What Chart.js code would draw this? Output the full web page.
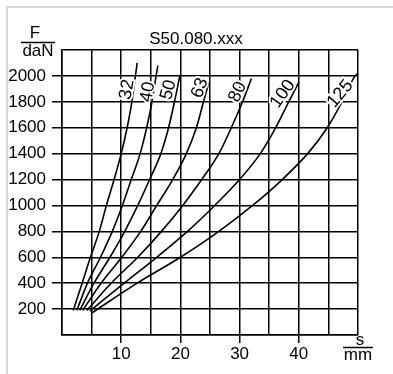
<!DOCTYPE html>
<html>
<head>
<meta charset="utf-8">
<script src="https://cdn.jsdelivr.net/npm/chart.js@4"></script>
<style>
    html, body { margin: 0; padding: 0; background: #fff; }
    #wrap { position: relative; width: 393px; height: 374px; overflow: hidden; }
    #frame { position: absolute; left: 6px; top: 6px; width: 420px; height: 420px;
             border-left: 2px solid #d6d6d6; border-top: 2px solid #d6d6d6; }
    #chart { position: absolute; left: 0; top: 0; }
</style>
</head>
<body>
<div id="wrap">
    <div id="frame"></div>
    <canvas id="chart" width="393" height="374"></canvas>
</div>
<script>
// ============================================
// DATA (stroke s in mm, force F in daN)
// ============================================

const curveNames = ['32', '40', '50', '63', '80', '100', '125'];

const force32  = [190, 400, 600, 800, 1000, 1200, 1400, 1600, 1800, 2000, 2100];
const stroke32 = [1.9, 3.4, 4.8, 6.3, 7.5, 8.8, 10.0, 11.0, 11.8, 12.4, 12.7];

const force40  = [190, 400, 600, 800, 1000, 1200, 1400, 1600, 1800, 2000, 2080];
const stroke40 = [2.5, 4.3, 6.5, 8.5, 10.2, 11.7, 13.2, 14.3, 15.2, 15.9, 16.2];

const force50  = [190, 400, 600, 800, 1000, 1200, 1400, 1600, 1800, 2000];
const stroke50 = [3.0, 5.4, 8.1, 10.6, 12.8, 14.8, 16.7, 18.0, 19.0, 19.9];

const force63  = [190, 400, 600, 800, 1000, 1200, 1400, 1600, 1800, 1950];
const stroke63 = [3.5, 6.6, 10.1, 13.3, 16.0, 18.7, 21.0, 22.7, 23.9, 24.8];

const force80  = [190, 400, 600, 800, 1000, 1200, 1400, 1600, 1800, 1980];
const stroke80 = [4.2, 8.3, 12.8, 16.8, 20.4, 23.6, 26.5, 28.6, 30.5, 32.0];

const force100  = [185, 400, 600, 800, 1000, 1200, 1400, 1600, 1800, 1950];
const stroke100 = [4.7, 10.5, 16.0, 21.2, 25.8, 30.0, 33.5, 36.1, 38.3, 40.0];

const force125  = [172, 400, 600, 800, 1000, 1200, 1400, 1600, 1800, 2000, 2020];
const stroke125 = [5.1, 12.7, 20.0, 26.5, 32.2, 37.2, 41.5, 44.8, 47.3, 49.5, 50.0];

// where the curve names sit (data coords) and their tilt
const labelStroke = [11.0, 14.5, 18.0, 23.3, 29.7, 37.3, 47.0];
const labelForce  = [1895, 1876, 1892, 1907, 1876, 1861, 1861];
const labelAngle  = [-80, -80, -75, -70, -65, -55, -50];

const xTickLabels = [10, 20, 30, 40];
const yTickLabels = [200, 400, 600, 800, 1000, 1200, 1400, 1600, 1800, 2000];

const FONT = '"Liberation Sans", Arial, sans-serif';

function toPoints(strokes, forces) {
    return strokes.map((s, i) => ({ x: s, y: forces[i] }));
}

const series = [
    toPoints(stroke32, force32),
    toPoints(stroke40, force40),
    toPoints(stroke50, force50),
    toPoints(stroke63, force63),
    toPoints(stroke80, force80),
    toPoints(stroke100, force100),
    toPoints(stroke125, force125)
];

/**
 * Texts around the plot + curve names
 */
const textPlugin = {
    id: 'drawingTexts',
    afterDraw(chart) {
        const ctx = chart.ctx;
        const xs = chart.scales.x;
        const ys = chart.scales.y;
        ctx.save();
        ctx.fillStyle = '#000';
        ctx.strokeStyle = '#000';
        ctx.font = '17px ' + FONT;
        ctx.textAlign = 'center';
        ctx.textBaseline = 'alphabetic';

        // title
        ctx.fillText('S50.080.xxx', 196, 44);

        // F / daN
        ctx.fillText('F', 35, 38);
        ctx.lineWidth = 1.5;
        ctx.beginPath();
        ctx.moveTo(21, 42.5);
        ctx.lineTo(55, 42.5);
        ctx.stroke();
        ctx.fillText('daN', 38, 56);

        // s / mm
        ctx.fillText('s', 360, 345);
        ctx.beginPath();
        ctx.moveTo(343, 347.5);
        ctx.lineTo(373, 347.5);
        ctx.stroke();
        ctx.fillText('mm', 358, 360);

        // curve names
        ctx.font = '18px ' + FONT;
        ctx.textBaseline = 'middle';
        curveNames.forEach((name, i) => {
            const px = xs.getPixelForValue(labelStroke[i]);
            const py = ys.getPixelForValue(labelForce[i]);
            ctx.save();
            ctx.translate(px, py);
            ctx.rotate(labelAngle[i] * Math.PI / 180);
            ctx.lineWidth = 4;
            ctx.strokeStyle = '#fff';
            ctx.strokeText(name, 0, 0);
            ctx.fillText(name, 0, 0);
            ctx.restore();
        });
        ctx.restore();
    }
};

const chart = new Chart(document.getElementById('chart'), {
    type: 'line',
    data: {
        datasets: series.map((pts, i) => ({
            label: curveNames[i],
            data: pts,
            borderColor: '#000',
            borderWidth: 1.6,
            pointRadius: 0,
            fill: false,
            cubicInterpolationMode: 'monotone'
        }))
    },
    options: {
        responsive: false,
        animation: false,
        layout: { padding: { top: 50, right: 35, left: 0, bottom: 0 } },
        plugins: {
            legend: { display: false },
            tooltip: { enabled: false },
            title: { display: false }
        },
        scales: {
            x: {
                type: 'linear',
                min: 0,
                max: 50,
                afterFit: (scale) => { scale.height = 39; },
                border: { display: true, color: '#000', width: 1.5 },
                grid: {
                    color: '#000',
                    lineWidth: 1.5,
                    drawTicks: true,
                    tickLength: 8,
                    tickColor: (c) => xTickLabels.includes(c.tick && c.tick.value) ? '#000' : 'rgba(0,0,0,0)'
                },
                ticks: {
                    stepSize: 5,
                    autoSkip: false,
                    maxRotation: 0,
                    padding: 1,
                    color: '#000',
                    font: { family: FONT, size: 17 },
                    callback: (v) => xTickLabels.includes(v) ? String(v) : ''
                }
            },
            y: {
                min: 0,
                max: 2200,
                afterFit: (scale) => { scale.width = 62; },
                border: { display: true, color: '#000', width: 1.5 },
                grid: {
                    color: '#000',
                    lineWidth: 1.5,
                    drawTicks: true,
                    tickLength: 10,
                    tickColor: (c) => yTickLabels.includes(c.tick && c.tick.value) ? '#000' : 'rgba(0,0,0,0)'
                },
                ticks: {
                    stepSize: 200,
                    autoSkip: false,
                    padding: 6,
                    color: '#000',
                    font: { family: FONT, size: 17 },
                    callback: (v) => yTickLabels.includes(v) ? String(v) : ''
                }
            }
        }
    },
    plugins: [textPlugin]
});
</script>
</body>
</html>
